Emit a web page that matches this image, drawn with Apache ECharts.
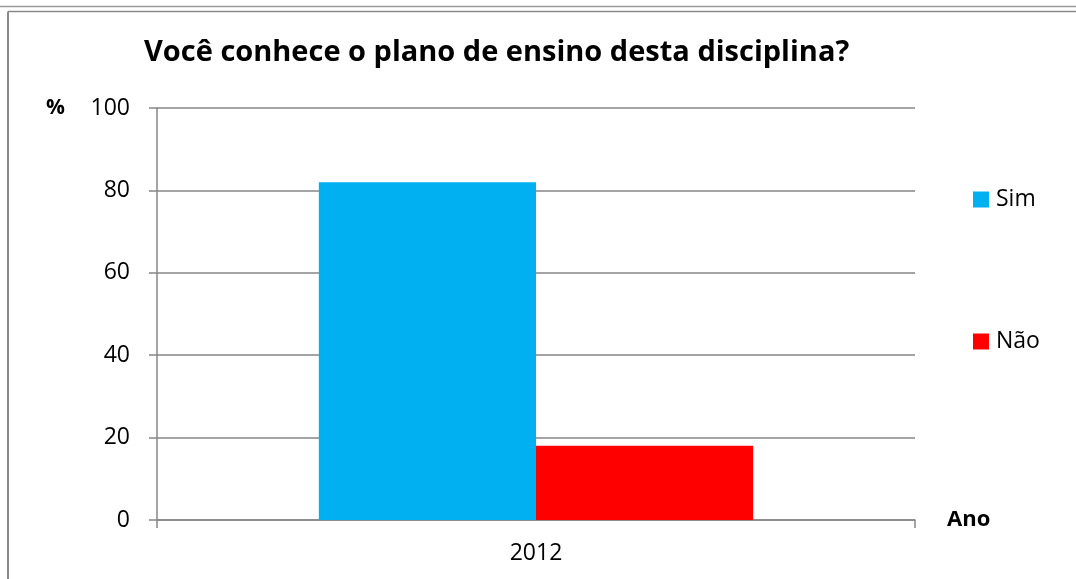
<!DOCTYPE html>
<html>
<head>
<meta charset="utf-8">
<script src="https://cdn.jsdelivr.net/npm/echarts@6/dist/echarts.min.js"></script>
<style>
html,body{margin:0;padding:0;background:#fff;}
#chart{width:1076px;height:579px;}
</style>
</head>
<body>
<div id="chart"></div>
<script>
var categories = ['2012'];
var seriesNames = ['Sim', 'Não'];
var simValues = [82];
var naoValues = [18];
var yTicks = [0, 20, 40, 60, 80, 100];

var chart = echarts.init(document.getElementById('chart'));
var fontFam = '"Open Sans", "Noto Sans", "DejaVu Sans", sans-serif';
chart.setOption({
  animation: false,
  textStyle: { fontFamily: fontFam },
  title: {
    text: 'Você conhece o plano de ensino desta disciplina?',
    left: 139, top: 33,
    textStyle: { fontSize: 29, fontWeight: 'bold', color: '#000', fontFamily: fontFam }
  },
  grid: { left: 157, right: 161, top: 108, bottom: 59 },
  legend: {
    orient: 'vertical',
    left: 968, top: 183,
    itemWidth: 16, itemHeight: 16, itemGap: 119,
    icon: 'rect',
    data: seriesNames,
    textStyle: { fontSize: 23, color: '#000', padding: [0, 0, 0, 2] }
  },
  graphic: [
    { type: 'line', shape: { x1: 0, y1: 6.5, x2: 1076, y2: 6.5 }, style: { stroke: '#9a9a9a', lineWidth: 1.5 } },
    { type: 'line', shape: { x1: 8, y1: 11.5, x2: 1076, y2: 11.5 }, style: { stroke: '#8a8a8a', lineWidth: 1.5 } },
    { type: 'line', shape: { x1: 8, y1: 11.5, x2: 8, y2: 579 }, style: { stroke: '#8a8a8a', lineWidth: 2 } }
  ],
  xAxis: {
    type: 'category',
    data: categories,
    name: 'Ano',
    nameLocation: 'end',
    nameGap: 32,
    nameTextStyle: { fontSize: 22, fontWeight: 'bold', color: '#000', verticalAlign: 'middle', padding: [4, 0, 0, 0] },
    axisLine: { lineStyle: { color: '#868686', width: 1.5 } },
    axisTick: { show: true, length: 8, lineStyle: { color: '#868686', width: 1.5 } },
    axisLabel: { fontSize: 23, color: '#000', margin: 22 }
  },
  yAxis: {
    type: 'value',
    min: yTicks[0], max: yTicks[yTicks.length - 1], interval: 20,
    name: '%',
    nameLocation: 'end',
    nameGap: 0,
    nameTextStyle: { fontSize: 21, fontWeight: 'bold', color: '#000', align: 'right', verticalAlign: 'middle', padding: [0, 92, 0, 0] },
    axisLine: { show: true, lineStyle: { color: '#868686', width: 1.5 } },
    axisTick: { show: true, length: 8, lineStyle: { color: '#868686', width: 1.5 } },
    axisLabel: { fontSize: 23, color: '#000', margin: 27 },
    splitLine: { show: true, lineStyle: { color: '#868686', width: 1.5 } }
  },
  series: [
    { name: seriesNames[0], type: 'bar', data: simValues, barGap: '0%', barCategoryGap: '42.7%', itemStyle: { color: '#00B0F0' } },
    { name: seriesNames[1], type: 'bar', data: naoValues, barGap: '0%', barCategoryGap: '42.7%', itemStyle: { color: '#FF0000' } }
  ]
});
</script>
</body>
</html>
